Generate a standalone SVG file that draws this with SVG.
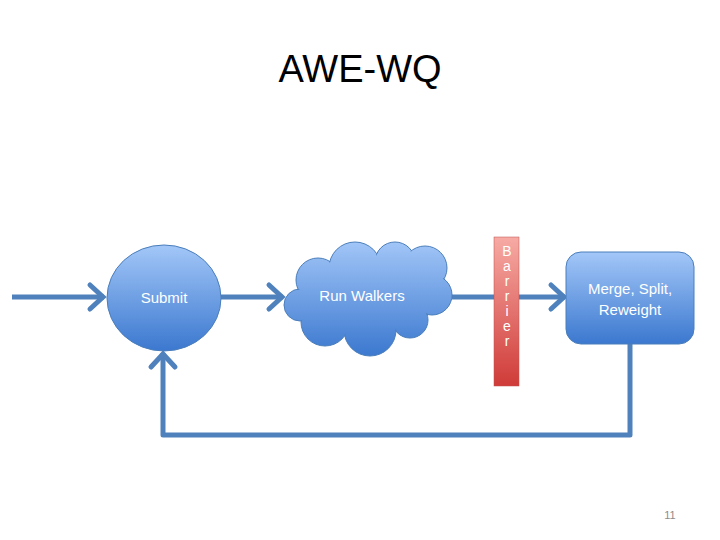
<svg xmlns="http://www.w3.org/2000/svg" width="720" height="540" viewBox="0 0 720 540">
<style>
  .lbl { font-family: "Liberation Sans", Arial, sans-serif; font-size: 15px; fill: #ffffff; text-anchor: middle; }
  .bar { font-family: "Liberation Sans", Arial, sans-serif; font-size: 14px; fill: #ffffff; text-anchor: middle; }
  .conn { fill: none; stroke: #4f81bd; stroke-width: 5; stroke-linejoin: round; }
  .shape { stroke: #4a7ebb; stroke-width: 1; }
</style>
<defs>
  <linearGradient id="blue" x1="0" y1="0" x2="0" y2="1">
    <stop offset="0" stop-color="#a3c7f8"/>
    <stop offset="1" stop-color="#3b78cf"/>
  </linearGradient>
  <linearGradient id="cloudg" gradientUnits="userSpaceOnUse" x1="0" y1="240" x2="0" y2="356">
    <stop offset="0" stop-color="#a3c7f8"/>
    <stop offset="1" stop-color="#3b78cf"/>
  </linearGradient>
  <linearGradient id="red" x1="0" y1="0" x2="0" y2="1">
    <stop offset="0" stop-color="#f7aaa4"/>
    <stop offset="1" stop-color="#cf3b38"/>
  </linearGradient>
  <marker id="chev" markerUnits="userSpaceOnUse" viewBox="-22 -16 26 32" refX="0" refY="0" markerWidth="26" markerHeight="32" orient="auto" overflow="visible">
    <path d="M-14,-12 L-1,0 L-14,12" fill="none" stroke="#4f81bd" stroke-width="5" stroke-linecap="round" stroke-linejoin="miter"/>
  </marker>
</defs>
<rect width="720" height="540" fill="#ffffff"/>
<text x="360" y="82" font-family="'Liberation Sans', Arial, sans-serif" font-size="38" fill="#000000" text-anchor="middle">AWE-WQ</text>

<g id="connectors">
  <path class="conn" d="M12,297 L104,297" marker-end="url(#chev)"/>
  <path class="conn" d="M221,297 L283,297" marker-end="url(#chev)"/>
  <path class="conn" d="M452,297 L565,297" marker-end="url(#chev)"/>
  <path class="conn" d="M630,344 L630,435 L163,435 L163,353" marker-end="url(#chev)"/>
</g>

<g id="submit">
  <ellipse class="shape" cx="164" cy="298" rx="57" ry="53" fill="url(#blue)"/>
  <text class="lbl" x="164" y="303">Submit</text>
</g>

<g id="run-walkers">
  <g class="shape" fill="url(#cloudg)">
    <circle cx="318" cy="280" r="22"/>
    <circle cx="355" cy="268" r="26"/>
    <circle cx="395" cy="262" r="20"/>
    <circle cx="425" cy="268" r="22"/>
    <circle cx="432" cy="295" r="20"/>
    <circle cx="410" cy="320" r="18"/>
    <circle cx="370" cy="330" r="26"/>
    <circle cx="325" cy="322" r="24"/>
    <circle cx="300" cy="305" r="16"/>
  </g>
  <g fill="url(#cloudg)">
    <circle cx="318" cy="280" r="21"/>
    <circle cx="355" cy="268" r="25"/>
    <circle cx="395" cy="262" r="19"/>
    <circle cx="425" cy="268" r="21"/>
    <circle cx="432" cy="295" r="19"/>
    <circle cx="410" cy="320" r="17"/>
    <circle cx="370" cy="330" r="25"/>
    <circle cx="325" cy="322" r="23"/>
    <circle cx="300" cy="305" r="15"/>
    <ellipse cx="368" cy="298" rx="62" ry="34"/>
  </g>
  <text class="lbl" x="362" y="301">Run Walkers</text>
</g>

<g id="barrier">
  <rect x="494" y="237" width="25" height="149" fill="url(#red)" stroke="#c0504d" stroke-width="0.5"/>
  <text class="bar" x="507" y="256">B</text>
  <text class="bar" x="507" y="271">a</text>
  <text class="bar" x="507" y="286">r</text>
  <text class="bar" x="507" y="301">r</text>
  <text class="bar" x="507" y="316">i</text>
  <text class="bar" x="507" y="331">e</text>
  <text class="bar" x="507" y="346">r</text>
</g>

<g id="merge">
  <rect class="shape" x="566" y="252" width="128" height="92" rx="15" ry="15" fill="url(#blue)"/>
  <text class="lbl" x="630" y="294">Merge, Split,</text>
  <text class="lbl" x="630" y="315">Reweight</text>
</g>

<text x="670" y="519" font-family="'Liberation Sans', Arial, sans-serif" font-size="11" fill="#8c8c8c" text-anchor="middle">11</text>
</svg>
